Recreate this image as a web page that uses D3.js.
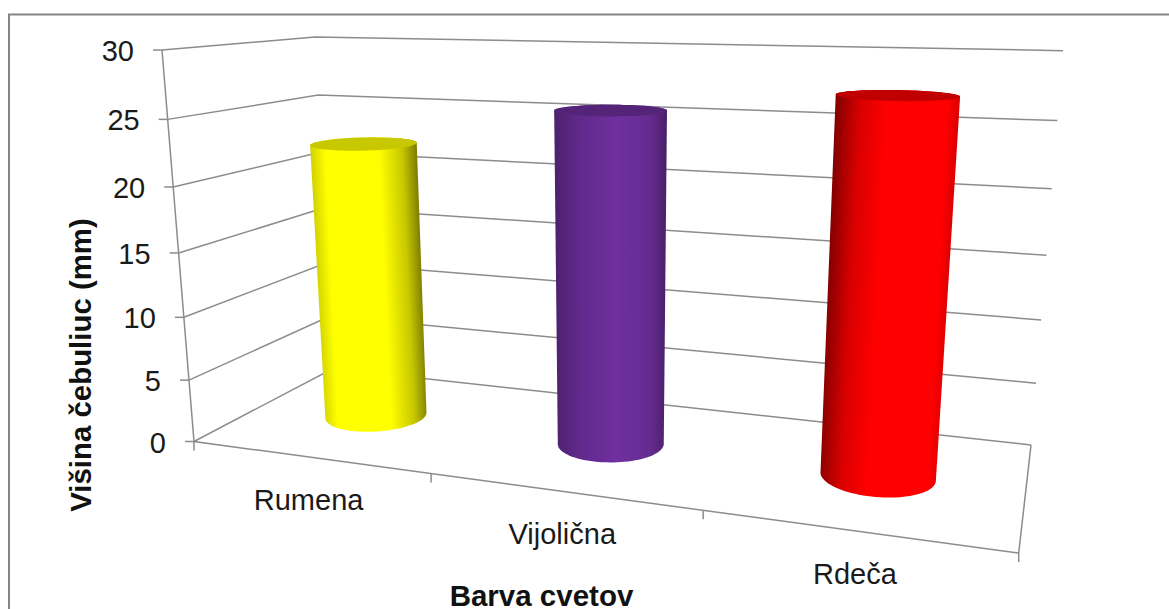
<!DOCTYPE html>
<html lang="sl">
<head>
<meta charset="utf-8">
<title>Višina čebuliuc</title>
<script src="https://cdnjs.cloudflare.com/ajax/libs/d3/7.9.0/d3.min.js"></script>
<style>
  html, body { margin: 0; padding: 0; background: #fff; }
  svg { display: block; }
  text { font-family: "Liberation Sans", Arial, sans-serif; fill: #1a1a1a; }
</style>
</head>
<body>
<svg id="chart" width="1169" height="609"></svg>
<script>
// Chart content
const categories = ["Rumena", "Vijolična", "Rdeča"];
const heights = [22.4, 25.7, 27.4];
const yTicks = [0, 5, 10, 15, 20, 25, 30];
const yTitle = "Višina čebuliuc (mm)";
const xTitle = "Barva cvetov";

// Screen positions of the floor corners and where the uprights converge
const floorFL = [194, 441.5], floorFR = [1018.7, 553], floorBR = [1031, 445], floorBL = [333, 368.5];
const upVanish = [614, 5581];

// Unit square -> floor quadrilateral (projective map)
const H = (() => {
  const [x0, y0] = floorFL, [x1, y1] = floorFR, [x2, y2] = floorBR, [x3, y3] = floorBL;
  const dx1 = x1 - x2, dx2 = x3 - x2, sx = x0 - x1 + x2 - x3;
  const dy1 = y1 - y2, dy2 = y3 - y2, sy = y0 - y1 + y2 - y3;
  const det = dx1 * dy2 - dx2 * dy1;
  const g = (sx * dy2 - dx2 * sy) / det, h = (dx1 * sy - sx * dy1) / det;
  return { a: x1 - x0 + g * x1, b: x3 - x0 + h * x3, c: x0, d: y1 - y0 + g * y1, e: y3 - y0 + h * y3, f: y0, g, h };
})();

// Category position along the floor (0..3) and depth (0..1)
const uScale = d3.scaleLinear().domain([0, categories.length]).range([0, 1]);
const valueScale = d3.scaleLinear().domain([0, 30]).range([0, 1]);
// Foreshortening of a full-height upright, by the screen row of its foot
const riseScale = d3.scaleLinear().domain([368.5, 443]).range([0.0598, 0.071]);

function floorPoint(u, depth) {
  const s = uScale(u), w = H.g * s + H.h * depth + 1;
  return [(H.a * s + H.b * depth + H.c) / w, (H.d * s + H.e * depth + H.f) / w];
}
function lift(p, value) {
  const k = riseScale(p[1]) * valueScale(value);
  const factor = 1 / (1 - k);
  return [upVanish[0] + (p[0] - upVanish[0]) * factor, upVanish[1] + (p[1] - upVanish[1]) * factor];
}
const project = (u, depth, value) => lift(floorPoint(u, depth), value);

const svg = d3.select("#chart");
const line = d3.line();
const frameColor = "#868686", gridColor = "#8c8c8c";

// Outer chart frame, open on the right and at the bottom
svg.append("path")
  .attr("d", "M9,609V14.5H1169")
  .attr("fill", "none").attr("stroke", frameColor).attr("stroke-width", 2);

// Wall gridlines
const nCat = categories.length;
svg.append("g").selectAll("path").data(yTicks).join("path")
  .attr("d", v => line([project(0, 0, v), project(0, 1, v), project(nCat, 1, v)]))
  .attr("fill", "none").attr("stroke", gridColor).attr("stroke-width", 1.5);

// Value axis, floor front edge and right floor edge
svg.append("path")
  .attr("d", line([project(0, 0, 30), project(0, 0, 0), project(nCat, 0, 0), project(nCat, 1, 0)]))
  .attr("fill", "none").attr("stroke", gridColor).attr("stroke-width", 1.5);

// Value ticks and labels
const yAxis = svg.append("g");
yAxis.selectAll("line").data(yTicks).join("line")
  .attr("x1", v => project(0, 0, v)[0] - 9).attr("x2", v => project(0, 0, v)[0])
  .attr("y1", v => project(0, 0, v)[1]).attr("y2", v => project(0, 0, v)[1])
  .attr("stroke", gridColor).attr("stroke-width", 1.5);
yAxis.selectAll("text").data(yTicks).join("text")
  .attr("x", v => project(0, 0, v)[0] - 28)
  .attr("y", v => project(0, 0, v)[1] + 11)
  .attr("text-anchor", "end").attr("font-size", 29)
  .text(d => d);

// Category ticks on the front edge
const xAxis = svg.append("g");
xAxis.selectAll("line").data(d3.range(nCat + 1)).join("line")
  .attr("x1", i => project(i, 0, 0)[0]).attr("x2", i => project(i, 0, 0)[0])
  .attr("y1", i => project(i, 0, 0)[1]).attr("y2", i => project(i, 0, 0)[1] + 9)
  .attr("stroke", gridColor).attr("stroke-width", 1.5);
xAxis.selectAll("text").data(categories).join("text")
  .attr("x", (d, i) => project(i + 0.5, 0, 0)[0])
  .attr("y", (d, i) => project(i + 0.5, 0, 0)[1] + 53)
  .attr("text-anchor", "middle").attr("font-size", 29)
  .text(d => d);

// Gradients across each cylinder: [offset, colour]
const shade = (c, t) => d3.interpolateRgb(c, "#000")(t);
const bodyStops = [
  [[0, shade("#ffff00", 0.18)], [0.14, "#ffff00"], [0.64, "#ffff00"], [0.86, shade("#ffff00", 0.22)], [1, shade("#ffff00", 0.52)]],
  [[0, shade("#7030a0", 0.32)], [0.22, shade("#7030a0", 0.14)], [0.55, "#7030a0"], [0.85, shade("#7030a0", 0.1)], [1, shade("#7030a0", 0.35)]],
  [[0, shade("#ff0000", 0.5)], [0.2, shade("#ff0000", 0.15)], [0.42, "#ff0000"], [0.9, "#ff0000"], [1, shade("#ff0000", 0.15)]]
];
const capColors = ["#c8c800", "#532478", "#c00000"];
const defs = svg.append("defs");

// Cylinder footprint radius in category widths and in floor depth
const radiusU = 0.2, radiusD = 0.2;
const ringAngles = d3.range(0, 360, 4).map(d => d * Math.PI / 180);

categories.forEach((name, i) => {
  const ring = value => ringAngles.map(a =>
    project(i + 0.5 + radiusU * Math.cos(a), 0.5 + radiusD * Math.sin(a), value));
  const bottom = ring(0), top = ring(heights[i]);

  // Silhouette: front half of the foot ring joined to the far half of the top ring
  const extremes = pts => [d3.leastIndex(pts, (a, b) => a[0] - b[0]), d3.greatestIndex(pts, p => p[0])];
  const arc = (pts, from, to, step) => {
    const out = [];
    for (let k = from; ; k = (k + step + pts.length) % pts.length) {
      out.push(pts[k]);
      if (k === to) break;
    }
    return out;
  };
  const [bl, br] = extremes(bottom), [tl, tr] = extremes(top);
  const nearBottom = arc(bottom, br, bl, bottom[(br + 1) % bottom.length][1] > bottom[br][1] ? 1 : -1);
  const farTop = arc(top, tl, tr, top[(tl + 1) % top.length][1] < top[tl][1] ? 1 : -1);

  const grad = defs.append("linearGradient")
    .attr("id", "body" + i)
    .attr("gradientUnits", "userSpaceOnUse")
    .attr("x1", top[tl][0]).attr("x2", top[tr][0])
    .attr("y1", 0).attr("y2", 0);
  grad.selectAll("stop").data(bodyStops[i]).join("stop")
    .attr("offset", d => d[0]).attr("stop-color", d => d[1]);

  // The sides slant, so the shading is skewed to follow the axis of the cylinder
  const base = lift(floorPoint(i + 0.5, 0.5), 0), head = lift(floorPoint(i + 0.5, 0.5), heights[i]);
  const tiltX = (base[0] - head[0]) / (base[1] - head[1]);
  grad.attr("gradientTransform", `matrix(1 0 ${tiltX} 1 ${-tiltX * head[1]} 0)`);

  const g = svg.append("g");
  g.append("path")
    .attr("d", line([...nearBottom, ...farTop]) + "Z")
    .attr("fill", `url(#body${i})`);
  g.append("path")
    .attr("d", line(top) + "Z")
    .attr("fill", capColors[i]);
});

// Axis titles
svg.append("text")
  .attr("transform", "translate(91,365) rotate(-90)")
  .attr("text-anchor", "middle").attr("font-size", 29.4).attr("font-weight", "bold")
  .style("fill", "#111").text(yTitle);
svg.append("text")
  .attr("x", 541.5).attr("y", 606)
  .attr("text-anchor", "middle").attr("font-size", 29.5).attr("font-weight", "bold")
  .style("fill", "#111").text(xTitle);
</script>
</body>
</html>
